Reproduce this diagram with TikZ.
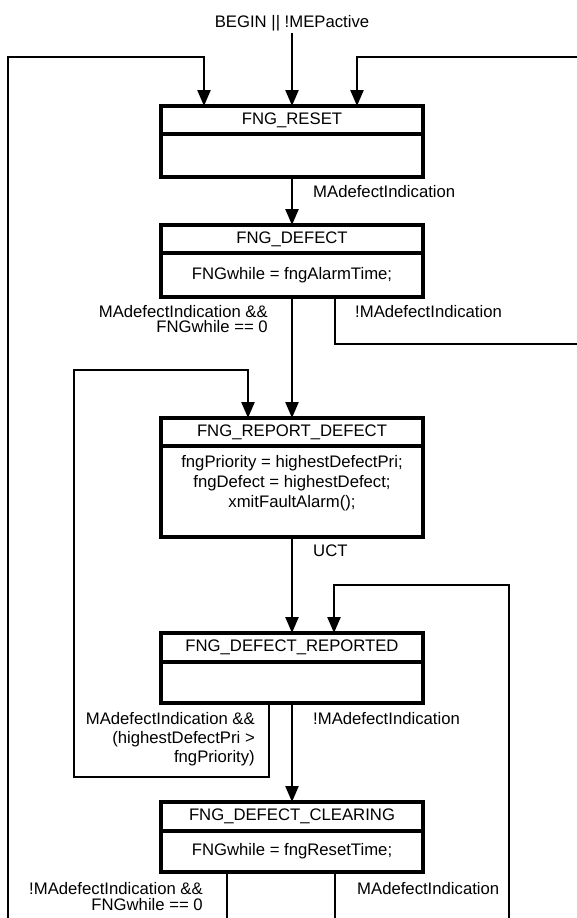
\documentclass[tikz,border=0pt]{standalone}
\usepackage{fontspec}
\setmainfont{Liberation Sans}
\usetikzlibrary{arrows.meta,positioning}

\begin{document}
\begin{tikzpicture}[x=1pt, y=-1pt, >={Triangle[width=13pt,length=16pt]},
    font=\fontsize{16.7}{15}\selectfont,
    state/.style={draw, line width=3.3pt, outer sep=0pt, inner sep=0pt,
        minimum width=262pt, minimum height=28pt},
    stbody/.style={state, align=center, font=\fontsize{16.7}{20}\selectfont},
    wire/.style={line width=2.4pt},
    guard/.style={inner sep=0pt, align=right, anchor=north east},
    event/.style={inner sep=0pt, anchor=north west}]
    \useasboundingbox (0,0) rectangle (577,918);

    % states: name on top, entry actions below
    \node[state] (reset) at (292,120) {FNG\_RESET};
    \node[stbody, minimum height=43pt, below=0pt of reset] (resetB) {};
    \node[state] (defect) at (292,239) {FNG\_DEFECT};
    \node[stbody, minimum height=44pt, below=0pt of defect] (defectB)
        {FNGwhile = fngAlarmTime;};
    \node[state] (report) at (292,432) {FNG\_REPORT\_DEFECT};
    \node[stbody, minimum height=91pt, below=0pt of report] (reportB)
        {fngPriority = highestDefectPri;\\ fngDefect = highestDefect;\\
         xmitFaultAlarm();\\ \mbox{}};
    \node[state, minimum height=29pt] (reported) at (292,647.5)
        {FNG\_DEFECT\_REPORTED};
    \node[stbody, minimum height=41pt, below=0pt of reported] (reportedB) {};
    \node[state, minimum height=29pt] (clearing) at (292,816.5)
        {FNG\_DEFECT\_CLEARING};
    \node[stbody, minimum height=41pt, below=0pt of clearing] (clearingB)
        {FNGwhile = fngResetTime;};

    % entry
    \node[inner sep=0pt, anchor=north] (begin) at (292,15) {BEGIN || !MEPactive};
    \draw[wire, ->] (begin.south) ++(0,1.5) -- (reset.north);

    % loops coming back into FNG_RESET
    \coordinate (lbot) at (8,918);
    \coordinate (ltop) at (8,57);
    \coordinate (rtop) at (577,57);
    \draw[wire, ->] (lbot) -- (ltop) -| ([xshift=-88pt]reset.north);
    \draw[wire, ->] (rtop) -| ([xshift=65pt]reset.north);

    \draw[wire, ->] (resetB) -- (defect);
    \node[event] (ev1) at (313,185) {MAdefectIndication};

    \draw[wire, ->] (defectB) -- (report);
    \node[guard] (ev2) at (268,305) {MAdefectIndication \&\&\\ FNGwhile == 0};
    \coordinate (rmid) at (577,344);
    \draw[wire] ([xshift=43pt]defectB.south) |- (rmid);
    \node[event] (ev3) at (355,305) {!MAdefectIndication};

    \draw[wire, ->] (reportB) -- (reported);
    \node[event] (ev4) at (313,545) {UCT};

    % higher priority defect: report again
    \coordinate (lloop) at (74,777);
    \coordinate (lloopT) at (74,370);
    \draw[wire, ->] ([xshift=-23pt]reportedB.south) |- (lloop) -- (lloopT)
        -| ([xshift=-44pt]report.north);
    \node[guard, font=\fontsize{16.7}{19}\selectfont] (ev5) at (255,712)
        {MAdefectIndication \&\&\\ (highestDefectPri >\\ fngPriority)};

    \coordinate (rbot) at (509,918);
    \coordinate (rloopT) at (509,585);
    \draw[wire, ->] (rbot) -- (rloopT) -| ([xshift=42pt]reported.north);

    \draw[wire, ->] (reportedB) -- (clearing);
    \node[event] (ev6) at (313,712) {!MAdefectIndication};

    % exits of FNG_DEFECT_CLEARING
    \draw[wire] ([xshift=-65pt]clearingB.south) -- ([xshift=-65pt]clearingB.south |- lbot);
    \draw[wire] ([xshift=43pt]clearingB.south) -- ([xshift=43pt]clearingB.south |- lbot);
    \node[guard, font=\fontsize{16.7}{16}\selectfont] (ev7) at (203,882)
        {!MAdefectIndication \&\&\\ FNGwhile == 0};
    \node[event] (ev8) at (357,882) {MAdefectIndication};
\end{tikzpicture}
\end{document}
